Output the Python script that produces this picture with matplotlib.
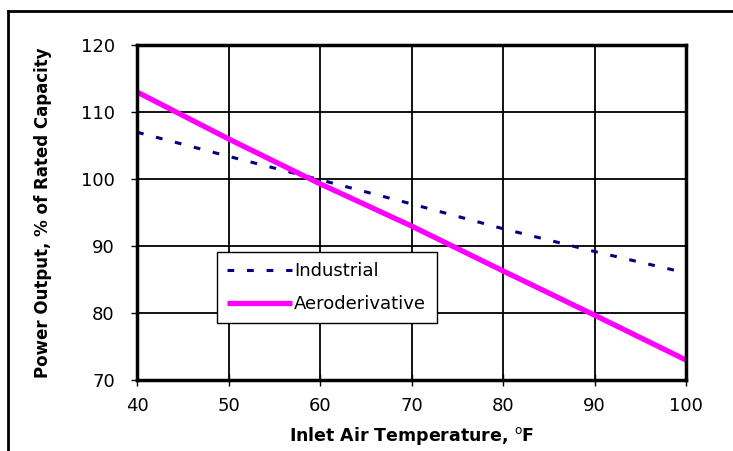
import matplotlib
matplotlib.use("Agg")
import matplotlib.pyplot as plt
from matplotlib.lines import Line2D

plt.rcParams['font.family'] = ['DejaVu Sans']

# data
temps = [40, 50, 60, 70, 80, 90, 100]
industrial = [107, 103.4, 99.9, 96.3, 92.6, 89.2, 86]
aero = [113, 106, 99.3, 93, 86.3, 79.7, 73]

xticks = [40, 50, 60, 70, 80, 90, 100]
yticks = [70, 80, 90, 100, 110, 120]

fig = plt.figure(figsize=(7.33, 4.51), dpi=100)
ax = fig.add_axes([0.187, 0.157, 0.749, 0.743])

ax.plot(temps, industrial, color='#000080', lw=2.2, ls=(0, (2.2, 4.2)), label='Industrial')
ax.plot(temps, aero, color='#FF00FF', lw=3.8, label='Aeroderivative', solid_capstyle='butt')

ax.set_xlim(40, 100)
ax.set_ylim(70, 120)
ax.set_xticks(xticks)
ax.set_yticks(yticks)
ax.grid(True, color='black', lw=1.3)
for s in ax.spines.values():
    s.set_linewidth(2.5)
ax.tick_params(labelsize=13)
ax.tick_params(axis='y', direction='out', length=4, width=1, pad=12)
ax.tick_params(axis='x', direction='inout', length=8, width=1, pad=8)

ax.set_xlabel(r'Inlet Air Temperature, $^{\mathrm{o}}$F', fontsize=12.5, fontweight='bold', labelpad=7)
ax.set_ylabel('Power Output, % of Rated Capacity', fontsize=12, fontweight='bold', labelpad=21)

leg = ax.legend(loc='lower left', bbox_to_anchor=(0.146, 0.17, 0.40, 0.23), mode='expand',
                fontsize=13, frameon=True, fancybox=False, framealpha=1,
                edgecolor='black', handlelength=3.6, handletextpad=0.1,
                borderaxespad=0, borderpad=0.55, labelspacing=0.85)
leg.get_frame().set_linewidth(1.0)

# outer frame (top and left edges visible)
fig.add_artist(Line2D([0.011, 1.0], [0.976, 0.976], color='black', lw=2, transform=fig.transFigure))
fig.add_artist(Line2D([0.011, 0.011], [0.0, 0.976], color='black', lw=2, transform=fig.transFigure))

fig.savefig('out.png', dpi=100)
